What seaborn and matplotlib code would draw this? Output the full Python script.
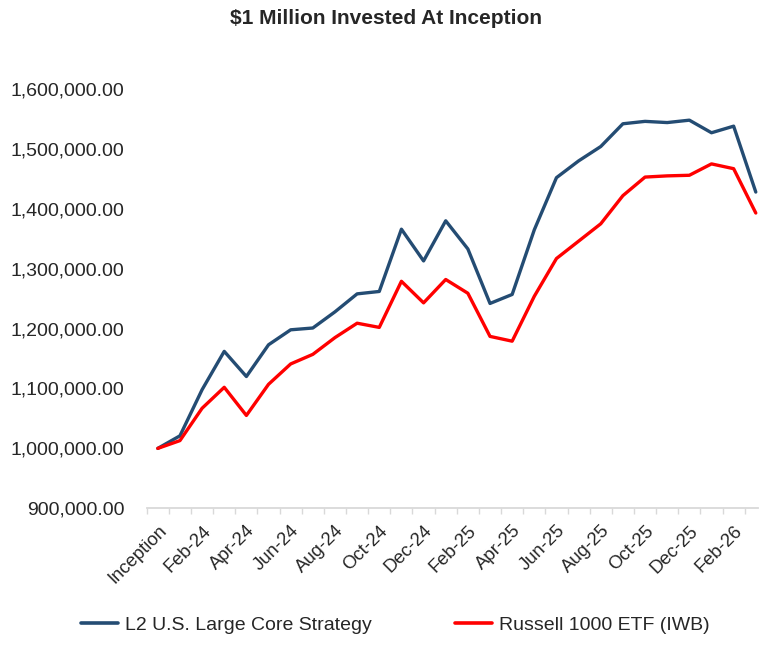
import numpy as np
import pandas as pd
import matplotlib
matplotlib.use("Agg")
import matplotlib.pyplot as plt
from matplotlib.ticker import FuncFormatter, FixedLocator
from matplotlib.lines import Line2D
import seaborn as sns

months = ["Inception", "Jan-24", "Feb-24", "Mar-24", "Apr-24", "May-24", "Jun-24", "Jul-24",
          "Aug-24", "Sep-24", "Oct-24", "Nov-24", "Dec-24", "Jan-25", "Feb-25", "Mar-25",
          "Apr-25", "May-25", "Jun-25", "Jul-25", "Aug-25", "Sep-25", "Oct-25", "Nov-25",
          "Dec-25", "Jan-26", "Feb-26", "Mar-26"]

strategy = [1000000, 1021000, 1098000, 1162000, 1120000, 1173000, 1198000, 1201000,
            1228000, 1258000, 1262000, 1366000, 1313000, 1380000, 1333000, 1242000,
            1257000, 1365000, 1452000, 1480000, 1504000, 1542000, 1546000, 1544000,
            1548000, 1527000, 1538000, 1428000]

benchmark = [1000000, 1013000, 1067000, 1102000, 1055000, 1107000, 1141000, 1157000,
             1185000, 1209000, 1202000, 1279000, 1243000, 1282000, 1259000, 1187000,
             1179000, 1254000, 1317000, 1346000, 1375000, 1422000, 1453000, 1455000,
             1456000, 1475000, 1467000, 1393000]

series_names = ["L2 U.S. Large Core Strategy", "Russell 1000 ETF (IWB)"]
colors = ["#244C73", "#FF0000"]

df = pd.DataFrame({
    "idx": list(range(len(months))) * 2,
    "value": strategy + benchmark,
    "series": [series_names[0]] * len(months) + [series_names[1]] * len(months),
})

sns.set_theme(style="white")
plt.rcParams["font.family"] = ["Liberation Sans", "DejaVu Sans"]

fig = plt.figure(figsize=(7.73, 6.47), dpi=100)
ax = fig.add_axes([0.1898, 0.2144, 0.7908, 0.648])

sns.lineplot(data=df, x="idx", y="value", hue="series", palette=colors,
             linewidth=2.4, ax=ax, legend=False, sort=False)

ax.set_xlim(-0.5, 27.1)
ax.set_ylim(900000, 1600000)
ax.set_xlabel("")
ax.set_ylabel("")

ax.xaxis.set_major_locator(FixedLocator(list(range(0, len(months), 2))))
ax.set_xticklabels(months[::2], rotation=45, ha="right", rotation_mode="anchor",
                   fontsize=13.3, color="#262626")
ax.xaxis.set_minor_locator(FixedLocator([i - 0.5 for i in range(len(months))]))
ax.tick_params(axis="x", which="major", length=0, pad=10)
ax.tick_params(axis="x", which="minor", length=4.5, width=1, color="#D9D9D9", direction="out", bottom=True)

ax.set_yticks(np.arange(900000, 1600001, 100000))
ax.yaxis.set_major_formatter(FuncFormatter(lambda v, p: f"{v:,.2f}"))
ax.tick_params(axis="y", length=0, pad=16, labelsize=14, labelcolor="#262626")

for s in ["top", "right", "left"]:
    ax.spines[s].set_visible(False)
ax.spines["bottom"].set_color("#D9D9D9")
ax.spines["bottom"].set_linewidth(1.3)
ax.grid(False)

fig.text(0.5, 0.972, "$1 Million Invested At Inception", ha="center", va="center",
         fontsize=15, fontweight="bold", color="#262626")

handles = [Line2D([0], [0], color=c, linewidth=2.6) for c in colors]
fig.legend(handles, series_names, loc="center", bbox_to_anchor=(0.511, 0.034), ncol=2,
           frameon=False, fontsize=14, handlelength=1.9, handletextpad=0.35,
           columnspacing=4.3, labelcolor="#262626")

fig.savefig("out.png", dpi=100)
